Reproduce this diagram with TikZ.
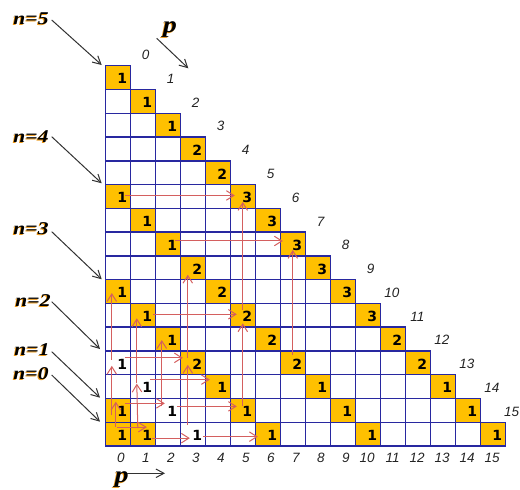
\documentclass[tikz,border=0pt]{standalone}
\usepackage{fontspec}
\setmainfont{Liberation Serif}
\newfontfamily\cellfont{DejaVu Sans}
\newfontfamily\axfont{Liberation Sans}
\newfontfamily\nfont[FakeStretch=1.2]{Liberation Serif}
\usetikzlibrary{arrows.meta,calc}
\definecolor{gridblue}{RGB}{40,40,160}
\definecolor{cellorange}{RGB}{255,192,0}
\definecolor{arrred}{RGB}{212,95,95}
\definecolor{labgray}{RGB}{50,50,50}
\definecolor{axgray}{RGB}{35,35,35}
\definecolor{shadoworange}{RGB}{235,150,20}
\tikzset{
  cellbox/.style={draw=gridblue, line width=1.5pt, minimum width=25pt, minimum height=23.77pt, inner sep=0pt, outer sep=0pt},
  num/.style={font=\cellfont\bfseries\fontsize{14}{14}\selectfont, inner sep=0pt},
  ax/.style={font=\axfont\itshape\fontsize{13.5}{14}\selectfont, text=axgray, inner sep=0pt, anchor=east},
  nlab/.style={font=\nfont\bfseries\itshape\fontsize{18}{18}\selectfont, inner sep=0pt},
  plab/.style={font=\nfont\bfseries\itshape\fontsize{23}{23}\selectfont, inner sep=0pt},
  redarr/.style={draw=arrred, line width=1pt, -{Straight Barb[length=7.5pt,width=9.5pt]}},
  labarr/.style={draw=labgray, line width=1pt, -{Straight Barb[length=8pt,width=8.5pt]}},
}
\begin{document}
\begin{tikzpicture}[x=1pt,y=-1pt]
\useasboundingbox (0,0) rectangle (520,490);
% orange fills
\foreach \r/\c in {0/0,1/1,2/2,3/3,4/4,5/5,6/6,7/7,8/8,9/9,10/10,11/11,12/12,13/13,14/14,15/15,
  5/0,6/1,7/2,8/3,9/4,10/5,11/6,12/7,13/8,14/9,15/10,
  9/0,10/1,11/2,12/3,13/4,14/5,15/6,14/0,15/1,15/0}
  \fill[cellorange] ({105.3+25*\c},{65.7+23.77*\r}) rectangle ++(25,23.77);
% grid cells
\foreach \r in {0,...,15}{
  \foreach \c in {0,...,\r}{
    \node[cellbox] (c-\r-\c) at ({117.8+25*\c},{77.6+23.77*\r}) {};
  }
}
% numbers
\foreach \r/\c/\v in {0/0/1,1/1/1,2/2/1,3/3/2,4/4/2,5/5/3,6/6/3,7/7/3,8/8/3,9/9/3,10/10/3,11/11/2,12/12/2,13/13/1,14/14/1,15/15/1,
  5/0/1,6/1/1,7/2/1,8/3/2,9/4/2,10/5/2,11/6/2,12/7/2,13/8/1,14/9/1,15/10/1,
  9/0/1,10/1/1,11/2/1,12/3/2,13/4/1,14/5/1,15/6/1,14/0/1,15/1/1,15/0/1,
  12/0/1,13/1/1,14/2/1,15/3/1}
  \node[num] (v-\r-\c) at ($(c-\r-\c.center)+(4.5,1.2)$) {\v};
% axis labels
\foreach \k in {0,...,15}{
  \node[ax] (b-\k) at ($(c-15-\k.center)+(7,24)$) {\k};
}
\foreach \k in {0,...,14}{
  \node[ax] (d-\k) at ($(c-\k-\k.center)+(31.8,-22.6)$) {\k};
}
\node[ax] (d-15) at ($(c-15-15.center)+(26.5,-22.6)$) {15};
% red arrows, horizontal
\draw[redarr] ($(c-5-0.center)+(7,-1)$) -- ($(c-5-5.center)+(-8,-1)$);
\draw[redarr] ($(c-7-2.center)+(7,-3)$) -- ($(c-7-7.center)+(-10,-3)$);
\draw[redarr] ($(c-10-1.center)+(10,-1)$) -- ($(c-10-5.center)+(-6,-1)$);
\draw[redarr] ($(c-12-0.center)+(7,-5)$) -- ($(c-12-3.center)+(-10,-5)$);
\draw[redarr] ($(c-13-1.center)+(7,-7)$) -- ($(c-13-4.center)+(-8,-7)$);
\draw[redarr] ($(c-14-0.center)+(7,-7)$) -- ($(c-14-2.center)+(-3,-7)$);
\draw[redarr] ($(c-14-2.center)+(9,-4)$) -- ($(c-14-5.center)+(-6,-4)$);
\draw[redarr] ($(c-15-0.center)+(-1,-7)$) -- ($(c-15-1.center)+(4,-7)$);
\draw[redarr] ($(c-15-1.center)+(9,4)$) -- ($(c-15-3.center)+(-3,4)$);
\draw[redarr] ($(c-15-3.center)+(10,2.5)$) -- ($(c-15-6.center)+(-10,2.5)$);
% red arrows, vertical
\draw[redarr] ($(c-10-5.center)+(0,-5)$) -- ($(c-5-5.center)+(0,5.5)$);
\draw[redarr] ($(c-14-5.center)+(0,-4)$) -- ($(c-10-5.center)+(0,8)$);
\draw[redarr] ($(c-12-7.center)+(0,-8)$) -- ($(c-7-7.center)+(0,6)$);
\draw[redarr] ($(c-12-3.center)+(-5,-5)$) -- ($(c-8-3.center)+(-5,7)$);
\draw[redarr] ($(c-15-3.center)+(-5,-9)$) -- ($(c-12-3.center)+(-5,2)$);
\draw[redarr] ($(c-12-0.center)+(-6,-3)$) -- ($(c-9-0.center)+(-6,1.5)$);
\draw[redarr] ($(c-14-0.center)+(-6,5)$) -- ($(c-12-0.center)+(-6,3)$);
\draw[redarr] ($(c-15-0.center)+(-2,-7)$) -- ($(c-14-0.center)+(-2,-8.7)$);
\draw[redarr] ($(c-13-1.center)+(-6,-4)$) -- ($(c-10-1.center)+(-6,3)$);
\draw[redarr] ($(c-15-1.center)+(-5,-6)$) -- ($(c-13-1.center)+(-6,-3)$);
\draw[redarr] ($(c-14-2.center)+(-6,-4)$) -- ($(c-11-2.center)+(-6,1)$);
% n labels with orange shadow
\foreach \name/\x/\y/\t in {n5/31/19/5,n4/31/137/4,n3/31/229/3,n2/33/301/2,n1/32/350/1,n0/31/374/0}{
  \node[nlab,text=shadoworange] (\name s) at (\x-1,\y+1) {n=\t};
  \node[nlab] (\name) at (\x,\y) {n=\t};
}
\node[plab,text=shadoworange] (pts) at (169,31) {p};
\node[plab] (pt) at (170,30) {p};
\node[plab,text=shadoworange] (pbs) at (120.7,481) {p};
\node[plab] (pb) at (121.7,480) {p};
% label arrows
\coordinate (a5s) at (51.7,20);    \coordinate (a5e) at (101.7,65);
\coordinate (a4s) at (51.7,136.7); \coordinate (a4e) at (101.7,183.3);
\coordinate (a3s) at (51.7,231.7); \coordinate (a3e) at (101.7,279.3);
\coordinate (a2s) at (51.7,301.7); \coordinate (a2e) at (100,349);
\coordinate (a1s) at (51.7,351.7); \coordinate (a1e) at (100,397.7);
\coordinate (a0s) at (51.7,375);   \coordinate (a0e) at (100,421.7);
\coordinate (pts0) at (156.7,38.3); \coordinate (pte0) at (188.3,68.3);
\coordinate (pbs0) at (126.7,473.3); \coordinate (pbe0) at (165,473.3);
\foreach \k in {0,...,5}{ \draw[labarr] (a\k s) -- (a\k e); }
\draw[labarr] (pts0) -- (pte0);
\draw[labarr] (pbs0) -- (pbe0);
\end{tikzpicture}
\end{document}
